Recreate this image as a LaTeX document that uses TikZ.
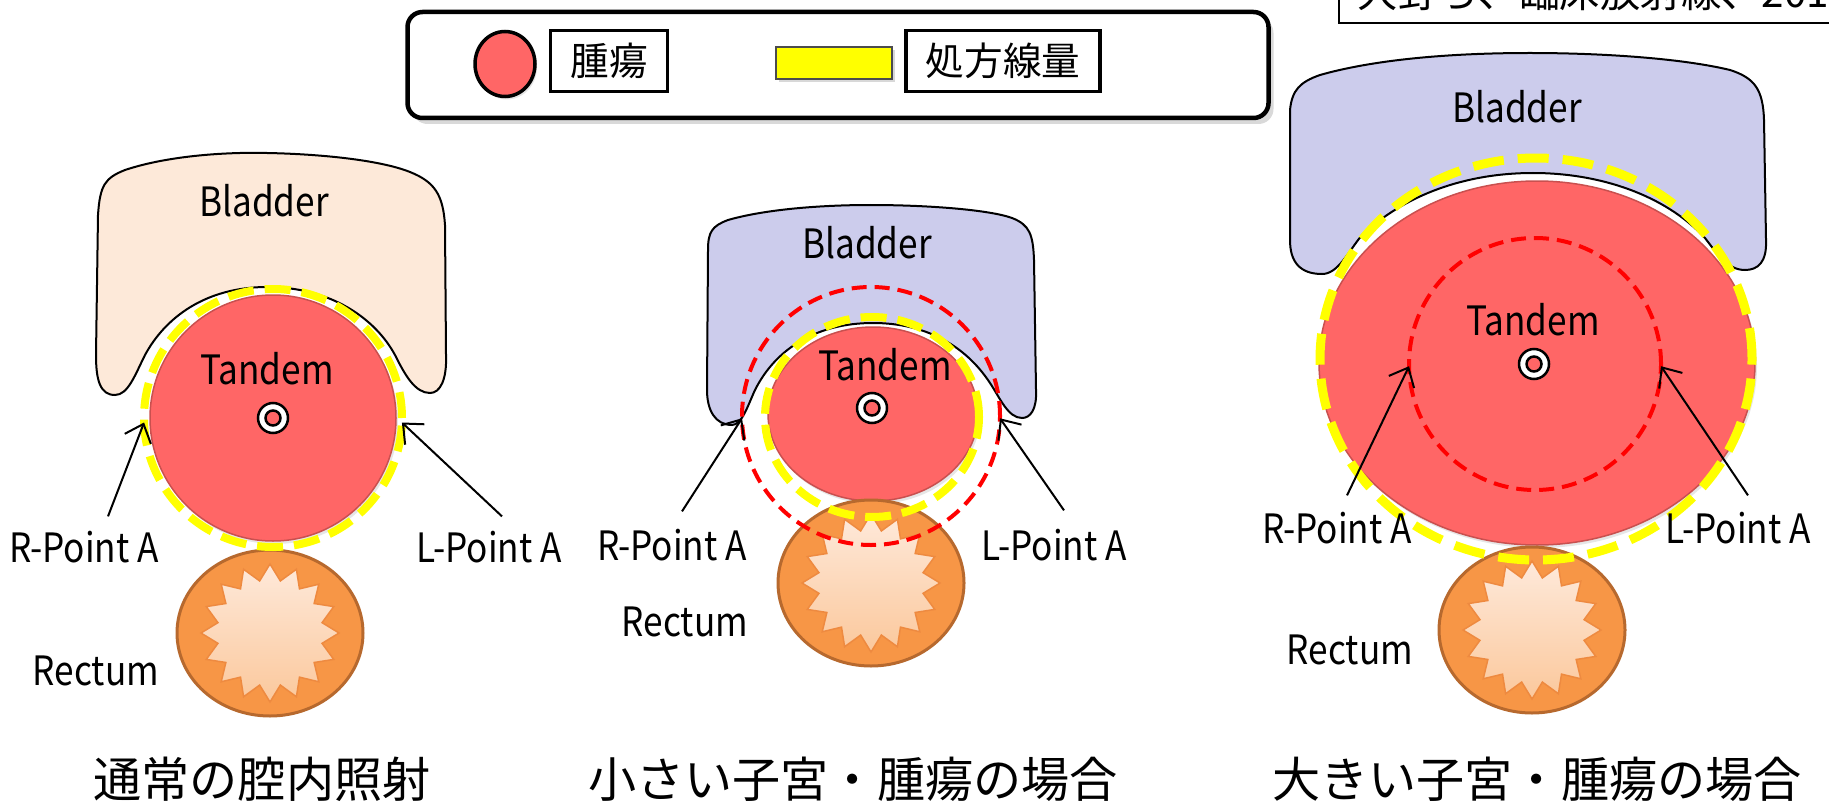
\documentclass[tikz,border=0pt]{standalone}
\usepackage{fontspec}
\setmainfont{Noto Sans CJK JP}
\newfontfamily\organfont{Noto Sans CJK JP}[FakeStretch=0.87]
\usetikzlibrary{shapes.geometric,shadows,arrows.meta}

\definecolor{tumorred}{HTML}{FF6666}
\definecolor{tumoredge}{HTML}{C9504F}
\definecolor{doseyellow}{HTML}{FFFF00}
\definecolor{peach}{HTML}{FDE9D9}
\definecolor{lavender}{HTML}{CCCCEC}
\definecolor{rectumfill}{HTML}{F79646}
\definecolor{rectumedge}{HTML}{B7692E}
\definecolor{startop}{HTML}{FEE9DA}
\definecolor{starbot}{HTML}{FBC89C}
\definecolor{staredge}{HTML}{EE8A40}

\tikzset{
  lbl/.style={font=\organfont\fontsize{11.5}{13}\selectfont, inner sep=0pt},
  note/.style={font=\fontsize{11.5}{13}\selectfont, inner sep=0pt},
  caption/.style={font=\fontsize{13.7}{16}\selectfont, inner sep=0pt},
  keybox/.style={draw, fill=white, line width=0.35mm, minimum height=6.1mm, inner sep=0pt, font=\fontsize{11}{13}\selectfont},
  legendframe/.style={draw, fill=white, rounded corners=1.5mm, line width=0.45mm, minimum width=86.1mm, minimum height=10.6mm,
    drop shadow={shadow xshift=0.5mm, shadow yshift=-0.6mm, opacity=0.3}},
  bladder/.style={draw=black, line width=0.2mm},
  tumor/.style={ellipse, fill=tumorred, draw=tumoredge, line width=0.15mm, inner sep=0pt,
    drop shadow={shadow xshift=0.2mm, shadow yshift=-0.3mm, opacity=0.2}},
  dose/.style={ellipse, draw=doseyellow, line width=0.8mm, dash pattern=on 2.6mm off 1.1mm, inner sep=0pt, outer sep=0pt},
  reach/.style={circle, draw=red, line width=0.4mm, dash pattern=on 1.5mm off 0.8mm, inner sep=0pt, outer sep=0pt},
  rectum/.style={ellipse, fill=rectumfill, draw=rectumedge, line width=0.3mm, minimum width=18.6mm, minimum height=16.6mm, inner sep=0pt},
  spikes/.style={star, star points=16, star point ratio=1.3, minimum size=13.8mm, inner sep=0pt,
    top color=startop, bottom color=starbot, draw=staredge, line width=0.15mm},
  tandemring/.style={circle, fill=white, draw=black, line width=0.25mm, minimum size=3mm, inner sep=0pt},
  tandemcore/.style={circle, fill=tumorred, draw=black, line width=0.25mm, minimum size=1.5mm, inner sep=0pt},
  pointer/.style={-{Straight Barb[length=1.6mm,width=2.8mm]}, line width=0.2mm},
}

\begin{document}
\begin{tikzpicture}[x=0.1mm,y=-0.1mm]
 \useasboundingbox (0,0) rectangle (1829,802);

 % source note, top right
 \draw[line width=0.2mm] (1339,-80) rectangle (1900,23);
 \node (source) [note, anchor=base west] at (1357,8) {大野ら、臨床放射線、2013};

 % legend
 \node (legend) [legendframe] at (838,65) {};
 \node (keytumor) [tumor, minimum width=6mm, minimum height=6.5mm, draw=black, line width=0.35mm] at (505,64) {};
 \node (keytumortext) [keybox, minimum width=11.7mm] at (609,61) {腫瘍};
 \node (keydose) [fill=doseyellow, draw=black!70, line width=0.2mm, minimum width=11.6mm, minimum height=3.2mm, inner sep=0pt,
   drop shadow={shadow xshift=0.3mm, shadow yshift=-0.3mm, opacity=0.3}] at (834,63) {};
 \node (keydosetext) [keybox, minimum width=19.4mm] at (1003,61) {処方線量};

 % normal case
 \draw[bladder, fill=peach] (98,215) .. controls (100,185) and (105,178) .. (125,170)
   .. controls (170,155) and (230,152) .. (267,153)
   .. controls (320,154) and (380,160) .. (410,172)
   .. controls (435,182) and (443,195) .. (445,225)
   -- (446,355) .. controls (447,380) and (440,393) .. (430,393)
   .. controls (415,393) and (405,375) .. (395,355)
   .. controls (375,318) and (330,287) .. (267,287)
   .. controls (205,287) and (165,318) .. (145,355)
   .. controls (135,375) and (128,395) .. (115,395)
   .. controls (100,395) and (96,380) .. (96,355) -- cycle;
 \node (bladder1) [lbl] at (264,201) {Bladder};
 \node (tumor1) [tumor, minimum size=24.6mm] at (273,418) {};
 \node (rectum1) [rectum] at (270,633) {};
 \node (star1) [spikes] at (rectum1) {};
 \node (dose1) [dose, minimum size=25.8mm] at (273,418) {};
 \node (ring1) [tandemring] at (273,418) {};
 \node (core1) [tandemcore] at (ring1) {};
 \node (tandem1) [lbl] at (267,369) {Tandem};
 \node (Rpt1) [lbl] at (84,547) {R-Point A};
 \node (Lpt1) [lbl] at (489,547) {L-Point A};
 \node (rectumlbl1) [lbl] at (96,671) {Rectum};
 \draw[pointer] ([xshift=2.4mm,yshift=1.4mm]Rpt1.north) -- (dose1.182);
 \draw[pointer] ([xshift=1.3mm,yshift=1.4mm]Lpt1.north) -- (dose1.-2);
 \node (caption1) [caption] at (262,779) {通常の腔内照射};

 % small uterus
 \draw[bladder, fill=lavender] (708,250) .. controls (708,232) and (712,226) .. (728,220)
   .. controls (770,208) and (830,205) .. (870,205)
   .. controls (930,205) and (990,210) .. (1012,218)
   .. controls (1030,225) and (1033,235) .. (1034,260)
   -- (1036,390) .. controls (1037,410) and (1030,418) .. (1022,418)
   .. controls (1008,418) and (1000,398) .. (990,383)
   .. controls (965,345) and (925,323) .. (873,323)
   .. controls (815,323) and (775,350) .. (755,390)
   .. controls (748,405) and (742,425) .. (732,425)
   .. controls (715,425) and (707,410) .. (707,390) -- cycle;
 \node (bladder2) [lbl] at (867,243) {Bladder};
 \node (tumor2) [tumor, minimum width=21mm, minimum height=17.4mm] at (873,414) {};
 \node (rectum2) [rectum] at (871,583) {};
 \node (star2) [spikes] at (rectum2) {};
 \node (dose2) [dose, minimum width=21.4mm, minimum height=20mm] at (872,417) {};
 \node (reach2) [reach, minimum size=25.8mm] at (871,416) {};
 \node (ring2) [tandemring] at (872,408) {};
 \node (core2) [tandemcore] at (ring2) {};
 \node (tandem2) [lbl] at (885,365) {Tandem};
 \node (Rpt2) [lbl] at (672,545) {R-Point A};
 \node (Lpt2) [lbl] at (1054,545) {L-Point A};
 \node (rectumlbl2) [lbl] at (685,622) {Rectum};
 \draw[pointer] ([xshift=1mm,yshift=1.7mm]Rpt2.north) -- (reach2.181);
 \draw[pointer] ([xshift=1mm,yshift=1.8mm]Lpt2.north) -- (reach2.-1);
 \node (caption2) [caption] at (853,779) {小さい子宮・腫瘍の場合};

 % large uterus
 \draw[bladder, fill=lavender] (1290,110) .. controls (1292,90) and (1300,82) .. (1320,75)
   .. controls (1380,58) and (1460,53) .. (1530,53)
   .. controls (1600,53) and (1680,58) .. (1730,70)
   .. controls (1755,78) and (1763,90) .. (1764,120)
   -- (1766,240) .. controls (1767,262) and (1758,270) .. (1745,270)
   .. controls (1728,270) and (1718,255) .. (1705,238)
   .. controls (1665,195) and (1600,173) .. (1533,173)
   .. controls (1465,173) and (1405,195) .. (1362,235)
   .. controls (1348,252) and (1338,274) .. (1322,274)
   .. controls (1300,274) and (1290,262) .. (1290,240) -- cycle;
 \node (bladder3) [lbl] at (1517,107) {Bladder};
 \node (tumor3) [tumor, minimum width=43.6mm, minimum height=36.4mm] at (1537,363) {};
 \node (rectum3) [rectum] at (1532,630) {};
 \node (star3) [spikes] at (rectum3) {};
 \node (dose3) [dose, line width=0.9mm, dash pattern=on 3.1mm off 1.4mm, minimum width=43.2mm, minimum height=40.2mm] at (1536,359) {};
 \node (reach3) [reach, minimum size=25.2mm] at (1535,364) {};
 \node (ring3) [tandemring] at (1534,364) {};
 \node (core3) [tandemcore] at (ring3) {};
 \node (tandem3) [lbl] at (1533,320) {Tandem};
 \node (Rpt3) [lbl] at (1337,528) {R-Point A};
 \node (Lpt3) [lbl] at (1738,528) {L-Point A};
 \node (rectumlbl3) [lbl] at (1350,650) {Rectum};
 \draw[pointer] ([xshift=1mm,yshift=1.6mm]Rpt3.north) -- (reach3.181);
 \draw[pointer] ([xshift=1mm,yshift=1.6mm]Lpt3.north) -- (reach3.-1);
 \node (caption3) [caption] at (1537,779) {大きい子宮・腫瘍の場合};
\end{tikzpicture}
\end{document}
